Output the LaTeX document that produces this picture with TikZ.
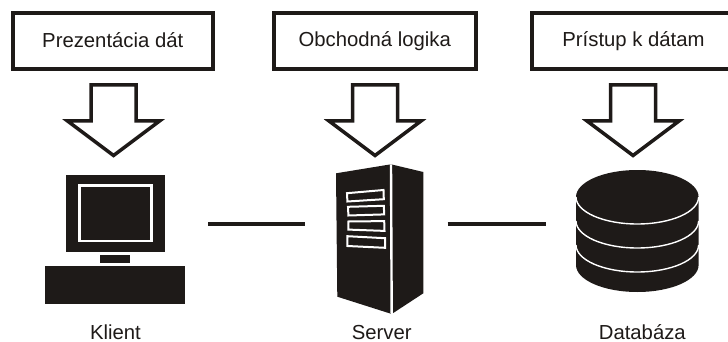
\documentclass[tikz,border=0pt]{standalone}
\usepackage{fontspec}
\setmainfont{Liberation Sans}
\definecolor{iconblack}{HTML}{1E1A18}
\tikzset{
  titlebox/.style={draw=iconblack, line width=4pt, fill=white, minimum height=56.5pt,
    text=iconblack, font=\fontsize{20.3}{24}\selectfont, text height=15pt, text depth=3.5pt, inner sep=0pt},
  iconlabel/.style={anchor=base, text=iconblack, font=\fontsize{20.3}{24}\selectfont, inner sep=0pt},
  downarrow/.style={draw=iconblack, line width=3.5pt, fill=white, miter limit=10},
  iconfill/.style={fill=iconblack},
  whiteline/.style={draw=white, line width=1.4pt},
  slotline/.style={draw=white, fill=iconblack, line width=2pt},
  linkline/.style={draw=iconblack, line width=4.2pt}
}
\begin{document}
\begin{tikzpicture}[x=1pt,y=-1pt]
  \useasboundingbox (0,0) rectangle (728,342);
  % Titulky
  \node[titlebox, minimum width=199.5pt, text height=17pt] (prezentacia) at (112.75,41.25) {Prezentácia dát};
  \node[titlebox, minimum width=201.5pt, text height=14.5pt] (logika) at (374.75,41.25) {Obchodná logika};
  \node[titlebox, minimum width=203pt, text height=14.5pt] (pristup) at (633.5,41.25) {Prístup k dátam};
  % Sipky
  \foreach \xc in {113.5,375,633}
    \draw[downarrow] (\xc-22.5,85) -- (\xc+22.5,85) -- (\xc+22.5,121) -- (\xc+46,121)
      -- (\xc,155.5) -- (\xc-46,121) -- (\xc-22.5,121) -- cycle;
  % Klient
  \fill[iconfill] (65.7,175) rectangle (165,251.7);
  \fill[white] (78,184) rectangle (152.7,242);
  \fill[iconfill] (81,187) rectangle (150,239.7);
  \fill[iconfill] (100,255) rectangle (130,263);
  \fill[iconfill] (45,266) rectangle (185,304);
  \node[iconlabel] (klient) at (115.5,339) {Klient};
  % Server
  \fill[iconfill] (336,173.3) -- (391,164.3) -- (423.3,172) -- (423.3,293.3)
    -- (391.7,314) -- (337.3,296.7) -- cycle;
  \draw[draw=white, line width=2.4pt] (391,164.3) -- (391.7,314);
  \draw[slotline] (347,193.2) -- (383.5,190) -- (383.8,199.2) -- (347.4,201.5) -- cycle;
  \draw[slotline] (348,206.8) -- (383.8,205.8) -- (384.2,214.4) -- (348.4,215.5) -- cycle;
  \draw[slotline] (348.4,221.5) -- (384.2,221.1) -- (384.5,230.9) -- (348.4,229.6) -- cycle;
  \draw[slotline] (347.4,236.2) -- (385,238.2) -- (385,247.8) -- (347.4,246) -- cycle;
  \node[iconlabel] (server) at (381.7,339) {Server};
  % Databaza
  \fill[iconfill] (576,197) arc[start angle=180, end angle=0, x radius=61.3, y radius=-27]
    -- (698.6,265) arc[start angle=0, end angle=-180, x radius=61.3, y radius=-27] -- cycle;
  \foreach \yc in {197,221,245}
    \draw[whiteline] (576,\yc) arc[start angle=180, end angle=360, x radius=61.3, y radius=-27];
  \node[iconlabel] (databaza) at (642.3,339) {Databáza};
  % Spojenia
  \coordinate (klientlink) at (208,223.7);
  \coordinate (serverleft) at (305,223.7);
  \coordinate (serverright) at (447.7,223.7);
  \coordinate (dblink) at (545.5,223.7);
  \draw[linkline] (klientlink) -- (serverleft);
  \draw[linkline] (serverright) -- (dblink);
\end{tikzpicture}
\end{document}
